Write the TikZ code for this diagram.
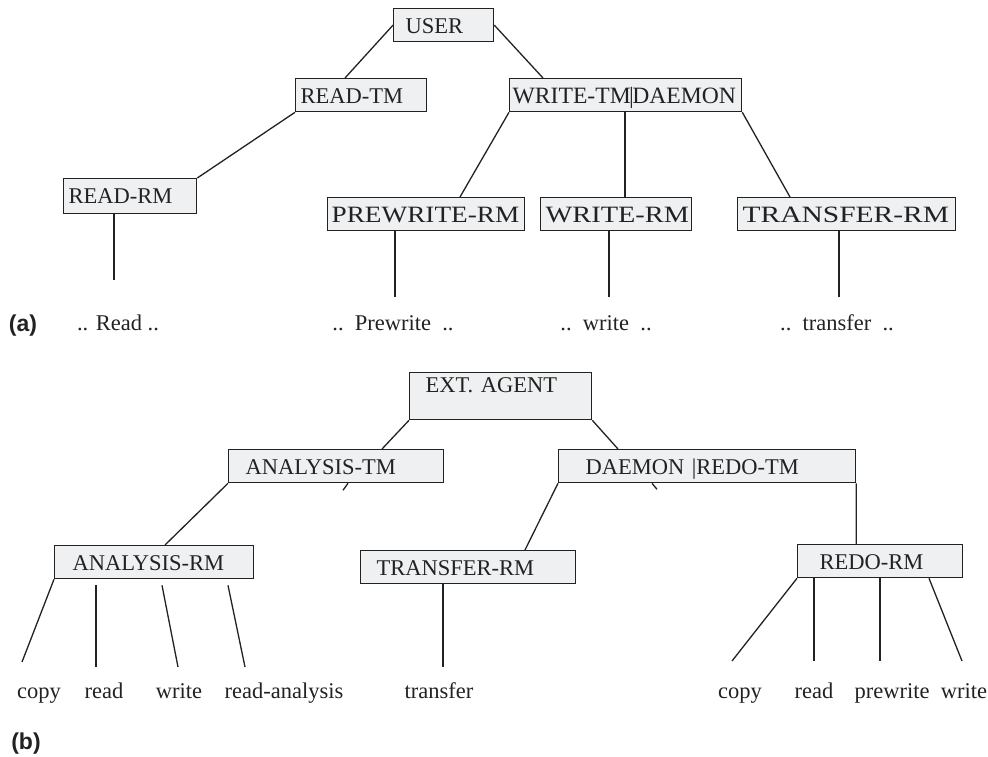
\documentclass[tikz,border=0pt]{standalone}
\usepackage{fontspec}
\usepackage{graphicx}
\setmainfont{Liberation Serif}
\setsansfont{Liberation Sans}
\definecolor{boxfill}{HTML}{EFF0F1}
\definecolor{inkline}{HTML}{222222}
\newcommand\boxfont{\fontsize{22.5}{27}\selectfont}
\newcommand\tagfont{\fontsize{23}{27}\selectfont\sffamily\bfseries}
\newcommand\widetext[2]{\scalebox{#1}[1.04]{#2}}
\begin{document}
\begin{tikzpicture}[x=1pt,y=-1pt,color=inkline,line width=1.3pt,
tmbox/.style={draw,fill=boxfill,rectangle,anchor=north west,align=left,inner ysep=0pt,text height=25pt,text depth=8pt,font=\boxfont},
leaf/.style={font=\boxfont,inner sep=0pt,anchor=base},
tag/.style={font=\tagfont,inner sep=0pt,anchor=base}]
\useasboundingbox (0,0) rectangle (988,757);
% (a)
\node[tmbox,inner xsep=12pt,text width=76pt] (user) at (393,8) {USER};
\node[tmbox,inner xsep=5pt,text width=121pt] (readtm) at (295,78) {READ-TM};
\node[tmbox,inner xsep=3pt,text width=226pt] (writetm) at (509,78) {\widetext{1.05}{WRITE-TM\kern-1.5pt|\kern-1.5pt DAEMON}};
\node[tmbox,inner xsep=5pt,text width=123pt,text depth=10pt] (readrm) at (63,178) {READ-RM};
\node[tmbox,inner xsep=4pt,text width=189pt] (prewrm) at (327,197) {\widetext{1.21}{PREWRITE-RM}};
\node[tmbox,inner xsep=5pt,text width=141pt] (writerm) at (540,197) {\widetext{1.26}{WRITE-RM}};
\node[tmbox,inner xsep=5pt,text width=208pt] (transrma) at (737,197) {\widetext{1.31}{TRANSFER-RM}};
\coordinate (eread) at (114,280);
\coordinate (eprew) at (395,297);
\coordinate (ewrite) at (609,297);
\coordinate (etransa) at (839,297);
\draw (user.west) -- ([xshift=50pt]readtm.north west);
\draw (user.east) -- ([xshift=34pt]writetm.north west);
\draw (readtm.south west) -- (readrm.north east);
\draw (writetm.south west) -- ([xshift=133pt]prewrm.north west);
\draw ([xshift=116pt]writetm.south west) -- ([xshift=85pt]writerm.north west);
\draw (writetm.south east) -- ([xshift=53pt]transrma.north west);
\draw ([xshift=51pt]readrm.south west) -- (eread);
\draw ([xshift=68pt]prewrm.south west) -- (eprew);
\draw ([xshift=69pt]writerm.south west) -- (ewrite);
\draw ([xshift=102pt]transrma.south west) -- (etransa);
\node[tag] (taga) at (23,331) {(a)};
\node[leaf] (lread) at (118,330) {.. Read ..};
\node[leaf] (lprew) at (393,330) {..\ \ Prewrite\ \ ..};
\node[leaf] (lwrite) at (606,330) {..\ \ write\ \ ..};
\node[leaf] (ltransa) at (837,330) {..\ \ transfer\ \ ..};
% (b)
\node[tmbox,inner xsep=16pt,text width=150pt,text height=20pt,text depth=27pt] (extagent) at (409,372) {EXT. AGENT};
\node[tmbox,inner xsep=17pt,text width=181pt] (analysistm) at (228,449) {ANALYSIS-TM};
\node[tmbox,inner xsep=27pt,text width=243pt] (daemon) at (558,449) {DAEMON |REDO-TM};
\node[tmbox,inner xsep=18pt,text width=163pt] (analysisrm) at (54,545) {ANALYSIS-RM};
\node[tmbox,inner xsep=16pt,text width=183pt] (transrmb) at (360,550) {TRANSFER-RM};
\node[tmbox,inner xsep=22pt,text width=121pt] (redorm) at (797,544) {REDO-RM};
\draw (extagent.south west) -- ([xshift=154pt]analysistm.north west);
\draw (extagent.south east) -- ([xshift=60pt]daemon.north west);
\draw (analysistm.south west) -- ([xshift=111pt]analysisrm.north west);
\draw ([xshift=120pt]analysistm.south west) -- ++(-5,7);
\draw (daemon.south west) -- ([xshift=165pt]transrmb.north west);
\draw ([xshift=94pt]daemon.south west) -- ++(5,6);
\draw (daemon.south east) -- ([xshift=59.3pt]redorm.north west);
\coordinate (ecopya) at (22,662);
\coordinate (ereada) at (96,667);
\coordinate (ewritea) at (178,667);
\coordinate (eranal) at (245,667);
\coordinate (etransb) at (443,667);
\coordinate (ecopyb) at (732,661);
\coordinate (ereadb) at (814,661);
\coordinate (eprewb) at (880,661);
\coordinate (ewriteb) at (962,661);
\draw (analysisrm.south west) -- (ecopya);
\draw ([xshift=42pt,yshift=-6pt]analysisrm.south west) -- (ereada);
\draw ([xshift=108pt,yshift=-6pt]analysisrm.south west) -- (ewritea);
\draw ([xshift=174pt,yshift=-6pt]analysisrm.south west) -- (eranal);
\draw ([xshift=83pt]transrmb.south west) -- (etransb);
\draw (redorm.south west) -- (ecopyb);
\draw ([xshift=17pt]redorm.south west) -- (ereadb);
\draw ([xshift=83pt]redorm.south west) -- (eprewb);
\draw ([xshift=132pt]redorm.south west) -- (ewriteb);
\node[leaf] (lcopya) at (39,698) {copy};
\node[leaf] (lreada) at (104,698) {read};
\node[leaf] (lwritea) at (179,698) {write};
\node[leaf] (lranal) at (284,698) {read-analysis};
\node[leaf] (ltransb) at (439,698) {transfer};
\node[leaf] (lcopyb) at (740,698) {copy};
\node[leaf] (lreadb) at (814,698) {read};
\node[leaf] (lprewb) at (892,698) {prewrite};
\node[leaf] (lwriteb) at (964,698) {write};
\node[tag] (tagb) at (26,749) {(b)};
\end{tikzpicture}
\end{document}
